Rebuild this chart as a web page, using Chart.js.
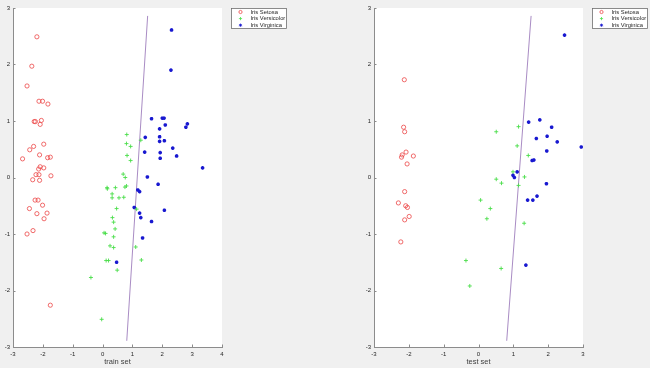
<!DOCTYPE html>
<html>
<head>
<meta charset="utf-8">
<script src="https://cdn.jsdelivr.net/npm/chart.js@4.4.1/dist/chart.umd.min.js"></script>
<style>
  html, body { margin: 0; padding: 0; background: #f0f0f0; width: 650px; height: 368px; overflow: hidden; }
  canvas { position: absolute; top: 0; }
  #train { left: 0; }
  #test { left: 340px; }
</style>
</head>
<body>
<canvas id="train" width="300" height="368"></canvas>
<canvas id="test" width="310" height="368"></canvas>
<script>
// [x, y] pairs
const trainSetosa = [
  [-2.20, 2.49], [-2.37, 1.97], [-2.53, 1.62], [-2.13, 1.35], [-2.01, 1.35], [-1.83, 1.30],
  [-2.29, 0.99], [-2.25, 0.99], [-2.05, 1.01], [-2.09, 0.94],
  [-2.31, 0.55], [-2.44, 0.49], [-1.97, 0.59], [-2.11, 0.40], [-2.68, 0.33], [-1.84, 0.35], [-1.75, 0.36],
  [-2.09, 0.19], [-1.97, 0.17], [-2.14, 0.15], [-2.23, 0.05], [-2.13, 0.05], [-1.73, 0.03],
  [-2.34, -0.04], [-2.11, -0.05],
  [-2.26, -0.40], [-2.16, -0.40], [-2.01, -0.49], [-2.45, -0.55], [-2.20, -0.64], [-1.86, -0.63],
  [-1.96, -0.73], [-2.33, -0.94], [-2.53, -1.00], [-1.75, -2.26]
];
const trainVersicolor = [
  [0.81, 0.76], [1.28, 0.66], [0.80, 0.60], [0.94, 0.55], [0.82, 0.39], [0.94, 0.30],
  [0.69, 0.06], [0.76, 0.00], [0.15, -0.18], [0.16, -0.20], [0.43, -0.18], [0.75, -0.17],
  [0.80, -0.15], [0.32, -0.29], [0.32, -0.36], [0.55, -0.36], [0.71, -0.35], [0.47, -0.55],
  [1.14, -0.56], [0.33, -0.71], [0.37, -0.79], [0.42, -0.91], [0.05, -0.98], [0.10, -0.99],
  [0.37, -1.05], [0.25, -1.21], [0.37, -1.24], [1.11, -1.23], [0.12, -1.47], [0.20, -1.47],
  [1.30, -1.46], [0.49, -1.64], [-0.39, -1.77], [-0.03, -2.51]
];
const trainVirginica = [
  [2.31, 2.61], [2.29, 1.90],
  [1.64, 1.04], [2.00, 1.05], [2.06, 1.05], [2.84, 0.95], [2.79, 0.89], [2.10, 0.93],
  [1.91, 0.86], [1.43, 0.71], [1.91, 0.72], [1.91, 0.64], [2.07, 0.65], [2.35, 0.52],
  [1.41, 0.45], [1.93, 0.44], [2.48, 0.38], [1.93, 0.34], [3.35, 0.17], [1.50, 0.01],
  [1.86, -0.12], [1.18, -0.22], [1.24, -0.25], [1.06, -0.53], [2.07, -0.58], [1.24, -0.63],
  [1.28, -0.71], [1.64, -0.78], [1.34, -1.07], [0.47, -1.50]
];
const testSetosa = [
  [-2.13, 1.73], [-2.15, 0.89], [-2.12, 0.81], [-2.08, 0.45], [-2.19, 0.40], [-2.21, 0.36],
  [-1.87, 0.38], [-2.05, 0.24], [-2.12, -0.25], [-2.30, -0.45], [-2.09, -0.50], [-2.04, -0.53],
  [-1.99, -0.69], [-2.12, -0.75], [-2.23, -1.14]
];
const testVersicolor = [
  [0.51, 0.81], [1.15, 0.90], [1.11, 0.56], [1.43, 0.39], [0.99, 0.10], [0.51, -0.03],
  [0.66, -0.10], [1.32, 0.01], [1.15, -0.14], [0.06, -0.40], [0.34, -0.55], [0.24, -0.73],
  [1.31, -0.81], [-0.36, -1.47], [0.65, -1.61], [-0.25, -1.92]
];
const testVirginica = [
  [2.47, 2.52], [1.44, 0.98], [1.76, 1.02], [2.10, 0.89], [1.66, 0.69], [1.97, 0.73],
  [2.26, 0.63], [2.95, 0.54], [1.96, 0.47], [1.54, 0.30], [1.59, 0.31], [1.11, 0.10],
  [0.99, 0.04], [1.03, 0.00], [1.95, -0.11], [1.41, -0.40], [1.56, -0.40], [1.68, -0.33],
  [1.36, -1.55]
];
// decision boundary end points
const boundary = [[0.81, -2.89], [1.51, 2.86]];

const classNames = ['Iris Setosa', 'Iris Versicolor', 'Iris Virginica'];

const xy = arr => arr.map(p => ({ x: p[0], y: p[1] }));

const styles = [
  { pointStyle: 'circle', borderColor: '#ec4646', backgroundColor: 'rgba(0,0,0,0)', pointRadius: 2.1, borderWidth: 0.8 },
  { pointStyle: 'cross', borderColor: '#4ade4a', backgroundColor: '#4ade4a', pointRadius: 2, borderWidth: 0.9 },
  { pointStyle: 'star', borderColor: '#1818d0', backgroundColor: '#1818d0', pointRadius: 1.8, borderWidth: 1.2 }
];

// white plot area, like the axes background
const axesBg = {
  id: 'axesBg',
  beforeDraw(chart) {
    const { ctx, chartArea: a } = chart;
    ctx.save();
    ctx.fillStyle = '#ffffff';
    ctx.fillRect(a.left, a.top, a.right - a.left, a.bottom - a.top);
    ctx.restore();
  }
};

// tick marks pointing inward
const innerTicks = {
  id: 'innerTicks',
  afterDraw(chart) {
    const { ctx, chartArea: a, scales: { x, y } } = chart;
    ctx.save();
    ctx.strokeStyle = '#8c8c8c';
    ctx.lineWidth = 1;
    ctx.beginPath();
    x.ticks.forEach(t => {
      const px = Math.round(x.getPixelForValue(t.value)) + 0.5;
      ctx.moveTo(px, a.bottom);
      ctx.lineTo(px, a.bottom - 2.5);
    });
    y.ticks.forEach(t => {
      const py = Math.round(y.getPixelForValue(t.value)) + 0.5;
      ctx.moveTo(a.left, py);
      ctx.lineTo(a.left + 2.5, py);
    });
    ctx.stroke();
    ctx.restore();
  }
};

// boxed legend at the right of the axes
const boxLegend = {
  id: 'boxLegend',
  afterDraw(chart) {
    const { ctx, chartArea: a } = chart;
    const bx = a.right + 9, by = 8, bw = 56, bh = 21;
    ctx.save();
    ctx.fillStyle = '#ffffff';
    ctx.fillRect(bx, by, bw, bh);
    ctx.strokeStyle = '#6e6e6e';
    ctx.lineWidth = 0.8;
    ctx.strokeRect(bx + 0.5, by + 0.5, bw - 1, bh - 1);
    ctx.font = '5.8px "Liberation Sans", Arial, sans-serif';
    ctx.textBaseline = 'middle';
    chart.data.datasets.forEach((ds, i) => {
      if (!ds.legendLabel) return;
      const cy = by + 4 + i * 6.6;
      ctx.strokeStyle = ds.borderColor;
      ctx.fillStyle = ds.backgroundColor;
      Chart.helpers.drawPoint(ctx, {
        pointStyle: ds.pointStyle, radius: 1.6, borderWidth: ds.borderWidth, rotation: 0
      }, bx + 9.5, cy);
      ctx.fillStyle = '#262626';
      ctx.fillText(ds.legendLabel, bx + 19.5, cy);
    });
    ctx.restore();
  }
};

function drawPanel(id, sets, xMax, title, padLeft, padRight) {
  const datasets = sets.map((pts, i) => ({
    legendLabel: classNames[i],
    data: xy(pts),
    pointStyle: styles[i].pointStyle,
    borderColor: styles[i].borderColor,
    backgroundColor: styles[i].backgroundColor,
    pointRadius: styles[i].pointRadius,
    borderWidth: styles[i].borderWidth,
    showLine: false
  }));
  datasets.push({
    data: xy(boundary),
    showLine: true,
    borderColor: '#a98cc4',
    borderWidth: 1,
    pointRadius: 0
  });

  new Chart(document.getElementById(id), {
    type: 'scatter',
    data: { datasets: datasets },
    options: {
      responsive: false,
      animation: false,
      events: [],
      layout: { padding: { left: padLeft, right: padRight, top: 8, bottom: 0 } },
      plugins: { legend: { display: false }, tooltip: { enabled: false } },
      scales: {
        x: {
          type: 'linear',
          min: -3,
          max: xMax,
          afterFit: s => { s.height = 21; },
          grid: { display: false, drawTicks: false },
          border: { display: true, color: '#8c8c8c', width: 1 },
          ticks: {
            stepSize: 1,
            padding: 4,
            color: '#262626',
            font: { family: '"Liberation Sans", Arial, sans-serif', size: 6 }
          },
          title: {
            display: true,
            text: title,
            color: '#404040',
            padding: { top: 0, bottom: 1.5 },
            font: { family: '"Liberation Sans", Arial, sans-serif', size: 7.5 }
          }
        },
        y: {
          type: 'linear',
          min: -3,
          max: 3,
          afterFit: s => { s.width = 13; },
          grid: { display: false, drawTicks: false },
          border: { display: true, color: '#8c8c8c', width: 1 },
          ticks: {
            stepSize: 1,
            padding: 3,
            color: '#262626',
            font: { family: '"Liberation Sans", Arial, sans-serif', size: 6 }
          }
        }
      }
    },
    plugins: [axesBg, innerTicks, boxLegend]
  });
}

drawPanel('train', [trainSetosa, trainVersicolor, trainVirginica], 4, 'train set', 0, 78);
drawPanel('test', [testSetosa, testVersicolor, testVirginica], 3, 'test set', 21, 67);
</script>
</body>
</html>
